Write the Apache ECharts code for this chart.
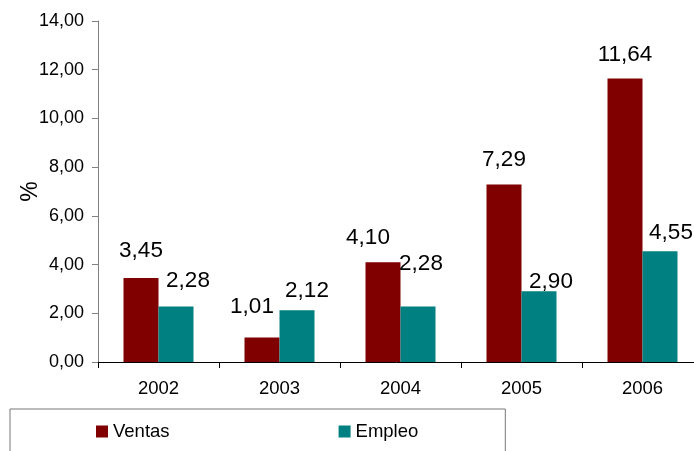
<!DOCTYPE html>
<html>
<head>
<meta charset="utf-8">
<title>Ventas y Empleo</title>
<script src="https://cdn.jsdelivr.net/npm/echarts@6/dist/echarts.min.js"></script>
<style>
  html, body { margin: 0; padding: 0; background: #ffffff; }
  #chart { width: 694px; height: 451px; }
</style>
</head>
<body>
<div id="chart"></div>
<script>
// Annual growth rates (%)
const years = ['2002', '2003', '2004', '2005', '2006'];
const ventas = [3.45, 1.01, 4.10, 7.29, 11.64];
const empleo = [2.28, 2.12, 2.28, 2.90, 4.55];
const yTicks = { min: 0, max: 14, step: 2 };

// Hand-placed label nudges [dx, dy] so neighbouring value labels do not collide
const ventasNudge = [[0, -3], [-10, -6], [-15, 0], [0, 0], [0, 1]];
const empleoNudge = [[12, -1], [10, 5], [3, -18], [12, 15], [11, 6]];

const fmt = v => v.toFixed(2).replace('.', ',');
const FONT = '"Liberation Sans", Arial, sans-serif';

function withLabels(values, nudges) {
  return values.map((v, i) => ({
    value: v,
    label: { offset: nudges[i] }
  }));
}

const chart = echarts.init(document.getElementById('chart'), null, { renderer: 'canvas' });

const valueLabel = {
  show: true,
  position: 'top',
  distance: 13,
  color: '#000',
  fontFamily: FONT,
  fontSize: 22.5,
  formatter: p => fmt(p.value)
};

chart.setOption({
  animation: false,
  backgroundColor: '#ffffff',
  textStyle: { fontFamily: FONT },
  grid: { left: 98, top: 21, bottom: 89, right: -9, containLabel: false, outerBoundsMode: 'none' },
  xAxis: {
    type: 'category',
    data: years,
    boundaryGap: true,
    axisLine: { show: true, lineStyle: { color: '#000', width: 1 } },
    axisTick: { show: true, length: 6, inside: false, alignWithLabel: false, lineStyle: { color: '#000' } },
    axisLabel: { color: '#000', fontSize: 18.5, fontFamily: FONT, margin: 17 },
    splitLine: { show: false }
  },
  yAxis: {
    type: 'value',
    min: yTicks.min,
    max: yTicks.max,
    interval: yTicks.step,
    name: '%',
    nameLocation: 'middle',
    nameRotate: 90,
    nameGap: 56,
    nameMoveOverlap: false,
    nameTextStyle: { color: '#000', fontSize: 23, fontFamily: FONT },
    axisLine: { show: true, lineStyle: { color: '#808080', width: 1 } },
    axisTick: { show: true, length: 6, inside: false, lineStyle: { color: '#808080' } },
    axisLabel: { color: '#000', fontSize: 18, fontFamily: FONT, margin: 14, formatter: v => fmt(v) },
    splitLine: { show: false }
  },
  legend: {
    left: 10,
    top: 409,
    orient: 'horizontal',
    itemWidth: 12,
    itemHeight: 12,
    itemGap: 169,
    icon: 'rect',
    padding: [13, 87, 30, 86],
    borderColor: '#777',
    borderWidth: 1,
    textStyle: { color: '#000', fontSize: 18.5, fontFamily: FONT },
    data: ['Ventas', 'Empleo']
  },
  series: [
    {
      name: 'Ventas',
      type: 'bar',
      barWidth: 35,
      barGap: '0%',
      itemStyle: { color: '#800000' },
      label: valueLabel,
      data: withLabels(ventas, ventasNudge)
    },
    {
      name: 'Empleo',
      type: 'bar',
      barWidth: 35,
      barGap: '0%',
      itemStyle: { color: '#008080' },
      label: valueLabel,
      data: withLabels(empleo, empleoNudge)
    }
  ]
});
</script>
</body>
</html>
